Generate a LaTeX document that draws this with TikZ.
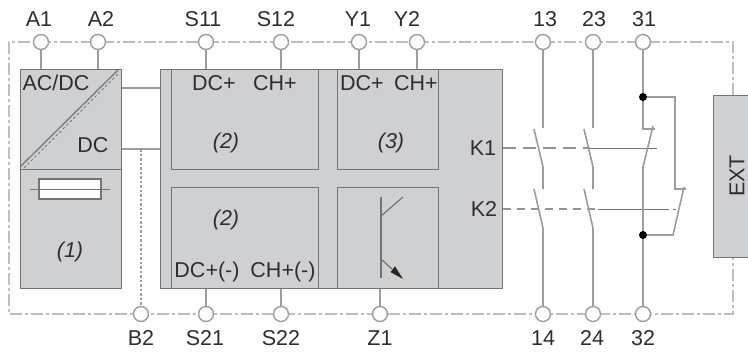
\documentclass[tikz,border=0pt]{standalone}
\usepackage{fontspec}
\setmainfont{Liberation Sans}
\usetikzlibrary{arrows.meta}
\definecolor{panel}{HTML}{CFD0D2}
\definecolor{edge}{HTML}{737476}
\definecolor{wire}{HTML}{9C9D9F}
\definecolor{ink}{HTML}{2E2E30}
\tikzset{
  fs/.style={font=\fontsize{21.5}{23}\selectfont,text=ink,inner sep=0pt},
  fsi/.style={fs,font=\fontsize{21.5}{23}\selectfont\itshape},
  panelbox/.style 2 args={draw=edge,fill=panel,line width=1.3pt,minimum width=#1pt,minimum height=#2pt,inner sep=0pt,anchor=north west},
  subbox/.style 2 args={draw=edge,line width=1.3pt,minimum width=#1pt,minimum height=#2pt,inner sep=0pt,anchor=north west},
  term/.style={circle,draw=wire,fill=white,line width=1.4pt,minimum size=15pt,inner sep=0pt},
  wireline/.style={draw=wire,line width=1.6pt},
  thin wire/.style={draw=edge,line width=1pt},
  bound/.style={draw=black!25,line width=1.6pt,dash pattern=on 12pt off 3pt on 3pt off 3pt},
  mech/.style={draw=black!42,line width=1.2pt,dash pattern=on 13pt off 7pt},
}
\begin{document}
\begin{tikzpicture}[x=1pt,y=-1pt]
\useasboundingbox (0,0) rectangle (748,356);
% panels
\node[panelbox={101}{219}] (psu) at (19.5,69) {};
\node[panelbox={342}{219}] (main) at (160,69) {};
\node[panelbox={37}{162}] (ext) at (713,95) {};
\node[subbox={147}{100}] (sa) at (171,69) {};
\node[subbox={147}{101}] (sb) at (171,187) {};
\node[subbox={101}{100}] (sc) at (337,69) {};
\node[subbox={101}{101}] (sd) at (337,187) {};
% boundary
\coordinate (bl) at (9,314);
\coordinate (tl) at (9,42);
\coordinate (tr) at (733,42);
\coordinate (br) at (733,314);
\draw[bound] (ext.north -| tr) -- (tr) -- (tl) -- (bl) -- (br) -- (ext.south -| br);
% terminals
\foreach \n/\x in {A1/41,A2/98,S11/206,S12/281,Y1/359,Y2/417,T13/543,T23/593,T31/643}
  \node[term] (\n) at (\x,42) {};
\foreach \n/\x in {B2/141,S21/206,S22/281,Z1/380,T14/543,T24/593,T32/643}
  \node[term] (\n) at (\x,314) {};
% terminal labels
\node[fs] (lA1) at (39,19) {A1};
\node[fs] (lA2) at (101,19) {A2};
\node[fs] (lS11) at (203,19) {S11};
\node[fs] (lS12) at (276,19) {S12};
\node[fs] (lY1) at (358,19) {Y1};
\node[fs] (lY2) at (407,19) {Y2};
\node[fs] (l13) at (545,19) {13};
\node[fs] (l23) at (594,19) {23};
\node[fs] (l31) at (644,19) {31};
\node[fs] (lB2) at (141,338) {B2};
\node[fs] (lS21) at (205,338) {S21};
\node[fs] (lS22) at (281,338) {S22};
\node[fs] (lZ1) at (380,338) {Z1};
\node[fs] (l14) at (543,338) {14};
\node[fs] (l24) at (592,338) {24};
\node[fs] (l32) at (643,338) {32};
% terminal stubs
\draw[wireline] (A1) -- (A1 |- psu.north);
\draw[wireline] (A2) -- (A2 |- psu.north);
\draw[wireline] (S11) -- (S11 |- main.north);
\draw[wireline] (S12) -- (S12 |- main.north);
\draw[wireline] (Y1) -- (Y1 |- main.north);
\draw[wireline] (Y2) -- (Y2 |- main.north);
\draw[wireline] (S21) -- (S21 |- main.south);
\draw[wireline] (S22) -- (S22 |- main.south);
\draw[wireline] (Z1) -- (Z1 |- main.south);
% psu to main
\draw[wireline] (psu.east |- 0,88) -- (main.west |- 0,88);
\coordinate (dcj) at (141,149);
\draw[wireline] (psu.east |- dcj) -- (main.west |- dcj);
\draw[draw=wire,line width=1.4pt,dash pattern=on 2.5pt off 2pt] (dcj) -- (B2);
% psu interior
\draw[thin wire] (psu.west |- 0,169) -- (psu.east |- 0,169);
\draw[thin wire,line width=1.2pt] (20,167) -- (119,69);
\draw[draw=edge,line width=1pt,dash pattern=on 2.5pt off 2.5pt] (24,168) -- (119,73);
\node[draw=edge,fill=white,line width=1.1pt,minimum width=62pt,minimum height=20pt,inner sep=0pt] (fuse) at (70,189) {};
\coordinate (fa) at (30,189);
\coordinate (fb) at (110,189);
\draw[thin wire] (fa) -- (fb);
% panel texts
\node[fs] (t1) at (56,83) {AC/DC};
\node[fs] (t2) at (93,145) {DC};
\node[fsi] (t3) at (70,252) {(1)};
\node[fs] (t4) at (214,83) {DC+};
\node[fs] (t5) at (275,83) {CH+};
\node[fsi] (t6) at (226,143) {(2)};
\node[fsi] (t7) at (226,220) {(2)};
\node[fs] (t8) at (207,272) {DC+(-)};
\node[fs] (t9) at (283,272) {CH+(-)};
\node[fs] (t10) at (362,83) {DC+};
\node[fs] (t11) at (416,83) {CH+};
\node[fsi] (t12) at (391,143) {(3)};
\node[fs] (k1) at (483,148) {K1};
\node[fs] (k2) at (484,209) {K2};
\node[fs,rotate=90] (tx) at (737,176) {EXT};
% transistor
\draw[thin wire,line width=1.2pt] (381,197) -- (381,278);
\draw[thin wire,line width=1.2pt] (381,216) -- (403,197);
\draw[thin wire,line width=1.2pt] (381,259) -- (392,269);
\draw[draw=black!85,fill=black!85,line width=.6pt] (402,278) -- (391,272) -- (395,267) -- cycle;
% contacts
\draw[mech] (503,148) -- (590,148);
\draw[mech,dash pattern=on 8pt off 6pt] (503,209) -- (598,209);
\draw[thin wire] (590,148) -- (657,148);
\draw[thin wire] (598,209) -- (660,209);
\draw[thin wire,dash pattern=on 9pt off 4pt on 3pt off 4pt] (660,209) -- (680,209);
\draw[wireline] (T13) -- (543,128);
\draw[wireline] (534,129) -- (543,167) -- (543,189);
\draw[wireline] (534,189) -- (543,228) -- (T14);
\draw[wireline] (T23) -- (593,128);
\draw[wireline] (584,129) -- (593,167) -- (593,189);
\draw[wireline] (584,189) -- (593,228) -- (T24);
\coordinate (ja) at (643,97);
\coordinate (jb) at (643,235);
\draw[wireline] (T31) -- (ja) -- (643,129) -- (655,129);
\draw[wireline] (653,126) -- (643,167) -- (T32);
\draw[wireline] (ja) -- (675,97) -- (675,189) -- (686,189);
\draw[wireline] (684,187) -- (673,235) -- (jb);
\fill[black] (ja) circle (4pt);
\fill[black] (jb) circle (4pt);
\end{tikzpicture}
\end{document}
